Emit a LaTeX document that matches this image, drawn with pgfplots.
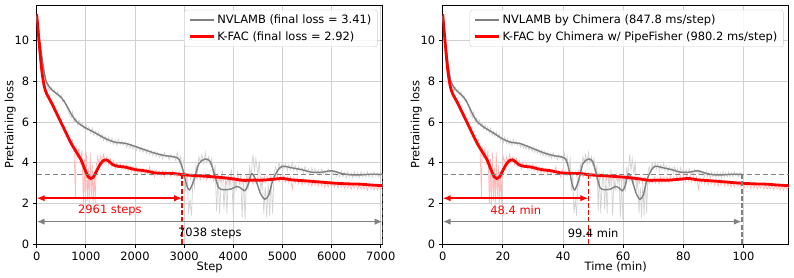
\documentclass[border=0pt]{standalone}
\usepackage{pgfplots}
\pgfplotsset{compat=1.18}
\usepackage{pgfplotstable}
\usepackage{fontspec}
\setmainfont{DejaVu Sans}
\usetikzlibrary{arrows.meta}

\pgfplotstableread{
x y
0 11.3
50 10.2
100 9.3
150 8.5
200 7.95
300 7.6
400 7.4
500 7.2
600 6.85
700 6.4
800 6.05
900 5.85
1000 5.7
1200 5.45
1400 5.18
1600 5.0
1800 4.95
2000 4.8
2200 4.63
2400 4.47
2600 4.35
2800 4.28
2900 4.15
2980 3.6
3050 2.9
3110 2.66
3200 3.15
3300 3.95
3430 4.18
3530 4.05
3620 3.4
3700 2.78
3800 2.67
3950 2.7
4070 2.83
4150 2.75
4233 2.62
4300 2.9
4370 3.45
4450 3.2
4550 2.5
4640 2.2
4720 2.4
4800 3.1
4900 3.6
5000 3.82
5200 3.74
5400 3.65
5600 3.53
5800 3.53
6000 3.6
6200 3.47
6400 3.4
6600 3.4
6800 3.43
7038 3.42
}\nvs

\pgfplotstableread{
x y
0 11.3
50 9.9
100 8.6
150 7.8
200 7.4
300 6.95
400 6.45
500 5.95
600 5.45
700 4.95
800 4.55
900 4.15
950 3.85
1000 3.55
1050 3.3
1100 3.22
1150 3.28
1200 3.5
1300 3.95
1380 4.13
1450 4.1
1550 3.9
1650 3.82
1800 3.78
2000 3.66
2200 3.6
2400 3.5
2600 3.47
2800 3.46
3000 3.4
3250 3.36
3500 3.32
3750 3.27
4000 3.2
4200 3.13
4400 3.14
4600 3.14
4800 3.18
5000 3.22
5200 3.15
5500 3.1
5800 3.04
6000 3.0
6300 2.96
6600 2.94
6800 2.9
7038 2.87
}\kfs

\pgfplotstableread{
x y
0 11.2
30 10.5
60 9.8
100 9.1
130 8.6
160 8.2
200 7.9
230 7.7
260 7.55
300 7.7
330 7.5
360 7.6
400 7.35
430 7.5
460 7.2
500 7.3
530 7.0
560 7.1
600 6.8
630 6.6
660 6.4
700 6.2
730 6.5
760 6.0
800 6.2
830 5.85
860 6.1
900 5.8
930 5.95
960 5.65
1000 5.85
1030 5.6
1060 5.75
1100 5.45
1130 5.7
1160 5.35
1200 5.55
1230 5.3
1260 5.5
1300 5.2
1330 5.4
1360 5.1
1400 5.3
1430 5.0
1460 5.25
1500 4.95
1530 5.2
1560 4.9
1600 5.1
1630 4.85
1660 5.15
1700 4.9
1730 5.05
1760 4.85
1800 5.0
1830 4.75
1860 4.95
1900 4.7
1930 4.9
1960 4.65
2000 4.85
2030 4.6
2060 4.8
2100 4.55
2130 4.75
2160 4.5
2200 4.7
2230 4.45
2260 4.65
2300 4.4
2330 4.6
2360 4.35
2400 4.55
2430 4.3
2460 4.5
2500 4.25
2530 4.45
2560 4.2
2600 4.5
2630 4.25
2660 4.35
2700 4.15
2730 4.4
2760 4.2
2800 4.35
2830 4.1
2860 4.5
2900 4.0
2930 4.3
2960 3.7
3000 4.2
3030 2.6
3060 3.5
3090 1.5
3120 2.2
3150 1.4
3180 3.3
3210 2.8
3240 3.9
3270 3.5
3300 4.3
3330 4.0
3360 4.4
3400 3.95
3430 4.5
3460 4.0
3500 4.3
3530 3.9
3560 4.2
3600 3.3
3630 3.9
3660 1.6
3690 3.5
3720 1.5
3750 2.9
3780 3.6
3810 1.7
3840 3.2
3870 1.5
3900 3.4
3930 2.8
3960 3.7
4000 1.4
4030 3.3
4060 2.6
4090 3.5
4120 3.0
4150 3.4
4180 1.3
4210 3.2
4240 1.2
4270 3.4
4300 2.6
4330 3.8
4360 3.3
4400 4.4
4430 3.6
4460 4.2
4500 3.4
4530 4.1
4560 2.6
4590 3.3
4620 1.5
4650 2.8
4680 1.3
4710 3.0
4740 1.4
4770 3.3
4800 1.5
4830 3.5
4860 3.8
4900 3.5
4930 4.0
4960 3.7
5000 4.0
5030 3.7
5060 3.95
5100 3.6
5130 3.9
5160 3.65
5200 4.0
5230 3.6
5260 3.85
5300 3.55
5330 3.8
5360 3.6
5400 3.75
5430 3.5
5460 3.8
5500 3.5
5530 3.7
5560 3.4
5600 3.75
5630 3.45
5660 3.7
5700 3.45
5730 3.65
5760 3.4
5800 3.7
5830 3.45
5860 3.6
5900 3.4
5930 3.7
5960 3.5
6000 3.65
6030 3.4
6060 3.6
6100 3.35
6130 3.55
6160 3.3
6200 3.6
6230 3.3
6260 3.5
6300 3.25
6330 3.55
6360 3.3
6400 3.5
6430 3.25
6460 3.55
6500 3.3
6530 3.5
6560 3.25
6600 3.55
6630 3.3
6660 3.5
6700 3.3
6730 3.55
6760 3.3
6800 3.5
6830 3.3
6860 3.55
6900 3.35
6930 3.5
6960 3.3
7000 3.5
7038 3.4
}\nvr

\pgfplotstableread{
x y
0 11.2
30 10.0
60 9.2
100 8.5
130 8.0
160 7.7
200 7.4
230 7.2
260 7.0
300 6.85
330 6.7
360 6.55
400 6.4
430 6.25
460 6.1
500 5.9
530 5.75
560 5.6
600 5.4
630 5.3
660 5.1
700 4.95
730 5.1
760 4.6
790 2.3
800 4.8
830 4.3
860 4.7
890 4.0
920 4.6
950 2.0
970 4.2
990 1.9
1010 4.5
1030 2.1
1050 3.8
1070 1.9
1090 4.5
1110 2.2
1130 3.9
1150 1.9
1170 3.6
1190 2.0
1210 3.8
1240 4.3
1270 3.9
1300 4.3
1330 4.0
1360 4.4
1400 4.0
1430 4.3
1460 3.9
1500 4.2
1530 3.8
1560 4.1
1600 3.7
1630 4.0
1660 3.75
1700 3.95
1730 3.7
1760 3.9
1800 3.65
1830 3.9
1860 3.6
1900 3.85
1930 3.55
1960 3.8
2000 3.5
2030 3.75
2060 3.5
2100 3.7
2130 3.45
2160 3.7
2200 3.4
2230 3.65
2260 3.45
2300 3.8
2330 3.4
2360 3.6
2400 3.3
2430 3.65
2460 3.4
2500 3.6
2530 3.35
2560 3.6
2600 3.3
2630 3.6
2660 3.4
2700 3.55
2730 3.3
2760 3.6
2800 3.35
2830 3.55
2860 3.3
2900 3.55
2930 3.3
2960 3.5
3000 3.25
3030 3.5
3060 3.3
3100 3.45
3130 3.2
3160 3.45
3200 3.2
3230 3.45
3260 3.2
3300 3.4
3330 3.15
3360 3.4
3400 3.2
3430 3.45
3460 3.15
3500 3.4
3530 3.2
3560 3.35
3600 3.1
3630 3.4
3660 3.15
3700 3.35
3730 3.05
3760 3.35
3800 3.1
3830 3.3
3860 2.95
3900 3.3
3930 3.05
3960 3.3
4000 3.0
4030 3.3
4060 3.0
4100 3.25
4130 2.95
4160 3.25
4200 2.95
4230 3.2
4260 3.0
4300 3.3
4330 3.0
4360 3.25
4400 2.95
4430 3.3
4460 3.0
4500 3.3
4530 3.05
4560 3.3
4600 3.0
4630 3.35
4660 3.05
4700 3.3
4730 3.1
4760 3.35
4800 3.1
4830 3.4
4860 3.1
4900 3.4
4930 3.05
4960 3.35
5000 3.1
5030 3.4
5060 3.05
5100 3.3
5130 3.0
5160 3.3
5200 2.7
5230 3.25
5260 3.0
5300 3.25
5330 2.95
5360 3.2
5400 2.9
5430 3.2
5460 2.95
5500 3.15
5530 2.9
5560 3.15
5600 2.85
5630 3.15
5660 2.9
5700 3.1
5730 2.85
5760 3.1
5800 2.85
5830 3.1
5860 2.8
5900 3.05
5930 2.8
5960 3.05
6000 2.85
6030 3.05
6060 2.8
6100 3.0
6130 2.75
6160 3.0
6200 2.8
6230 3.0
6260 2.75
6300 2.95
6330 2.75
6360 2.95
6400 2.7
6430 2.95
6460 2.75
6500 2.95
6530 2.7
6560 2.9
6600 2.7
6630 2.9
6660 2.7
6700 2.9
6730 2.65
6760 2.9
6800 2.7
6830 2.85
6860 2.65
6900 2.85
6930 2.65
6960 2.85
7000 2.7
7038 2.8
}\kfr

\definecolor{mgray}{RGB}{128,128,128}
\definecolor{rawgray}{RGB}{210,210,210}
\definecolor{rawred}{RGB}{255,185,185}

\pgfplotsset{
  myax/.style={
    scale only axis, width=346bp, height=239bp,
    ymin=0, ymax=11.75,
    ytick={0,2,4,6,8,10},
    tick align=outside, major tick length=3.5bp,
    xtick pos=bottom, ytick pos=left,
    grid=major, major grid style={color=black!18, line width=0.8bp},
    axis line style={line width=0.8bp},
    every tick/.style={black, line width=0.8bp},
    /pgf/number format/assume math mode=true,
    /pgf/number format/set thousands separator={},
    ylabel={Pretraining loss},
    every axis y label/.style={at={(axis description cs:-0.0766,0.5)}, anchor=center, rotate=90},
    every axis x label/.style={at={(axis description cs:0.5,-0.0962)}, anchor=center},
    legend cell align=left,
    legend style={at={(0.985,0.98)}, anchor=north east, draw=black!20, rounded corners=2.5bp,
      row sep=2bp, inner xsep=4bp, inner ysep=3bp,
      fill=white, fill opacity=0.85, text opacity=1},
    legend image code/.code={\draw[##1] (0bp,0bp) -- (24bp,0bp);},
    clip=true,
  }
}

\begin{document}
\fontsize{11.5}{13.5}\selectfont
\begin{tikzpicture}[font=\fontsize{11.5}{13.5}\selectfont]
\path[use as bounding box] (-36.7bp,-34bp) rectangle (757.3bp,244bp);
\begin{axis}[myax, at={(0,0)}, anchor=south west,
  xmin=0, xmax=7040, xtick={0,1000,...,7000}, xlabel={Step}]
\addplot[rawgray, line width=0.7bp, forget plot] table[x=x,y=y] {\nvr};
\addplot[rawred, line width=0.7bp, forget plot] table[x=x,y=y] {\kfr};
\addplot[mgray, line width=1.4bp, smooth, tension=0.5] table[x=x,y=y] {\nvs};
\addlegendentry{NVLAMB (final loss = 3.41)}
\addplot[red, line width=2.8bp, smooth, tension=0.5] table[x=x,y=y] {\kfs};
\addlegendentry{K-FAC (final loss = 2.92)}
\addplot[mgray, line width=1.6bp, dash pattern=on 5.5bp off 2.5bp, forget plot] coordinates {(0,3.41) (7040,3.41)};
\addplot[red, line width=1.6bp, dash pattern=on 5bp off 2.2bp, forget plot] coordinates {(2961,0) (2961,3.41)};
\addplot[mgray, line width=1.6bp, dash pattern=on 5bp off 2.2bp, forget plot] coordinates {(7038,0) (7038,3.41)};
\draw[red, line width=1.6bp, {Latex[length=8bp,width=6.5bp]}-{Latex[length=8bp,width=6.5bp]}] (axis cs:0,2.25) -- (axis cs:2961,2.25);
\draw[mgray, line width=1.6bp, {Latex[length=8bp,width=6.5bp]}-{Latex[length=8bp,width=6.5bp]}] (axis cs:0,1.1) -- (axis cs:7038,1.1);
\node[red] at (axis cs:1490,1.64) {2961 steps};
\node[black] at (axis cs:3523,0.54) {7038 steps};
\end{axis}

\begin{axis}[myax, at={(406bp,0)}, anchor=south west,
  xmin=0, xmax=115, xtick={0,20,...,100}, xlabel={Time (min)}]
\addplot[rawgray, line width=0.7bp, forget plot] table[x expr=\thisrowno{0}*0.014123, y index=1] {\nvr};
\addplot[rawred, line width=0.7bp, forget plot] table[x expr=\thisrowno{0}*0.016346, y index=1] {\kfr};
\addplot[mgray, line width=1.4bp, smooth, tension=0.5] table[x expr=\thisrowno{0}*0.014123, y index=1] {\nvs};
\addlegendentry{NVLAMB by Chimera (847.8 ms/step)}
\addplot[red, line width=2.8bp, smooth, tension=0.5] table[x expr=\thisrowno{0}*0.016346, y index=1] {\kfs};
\addlegendentry{K-FAC by Chimera w/ PipeFisher (980.2 ms/step)}
\addplot[mgray, line width=1.6bp, dash pattern=on 5.5bp off 2.5bp, forget plot] coordinates {(0,3.41) (115,3.41)};
\addplot[red, line width=1.6bp, dash pattern=on 5bp off 2.2bp, forget plot] coordinates {(48.4,0) (48.4,3.41)};
\addplot[mgray, line width=1.6bp, dash pattern=on 5bp off 2.2bp, forget plot] coordinates {(99.4,0) (99.4,3.41)};
\draw[red, line width=1.6bp, {Latex[length=8bp,width=6.5bp]}-{Latex[length=8bp,width=6.5bp]}] (axis cs:0,2.25) -- (axis cs:48.4,2.25);
\draw[mgray, line width=1.6bp, {Latex[length=8bp,width=6.5bp]}-{Latex[length=8bp,width=6.5bp]}] (axis cs:0,1.1) -- (axis cs:99.4,1.1);
\node[red] at (axis cs:24.3,1.64) {48.4 min};
\node[black] at (axis cs:50,0.54) {99.4 min};
\end{axis}
\end{tikzpicture}
\end{document}
